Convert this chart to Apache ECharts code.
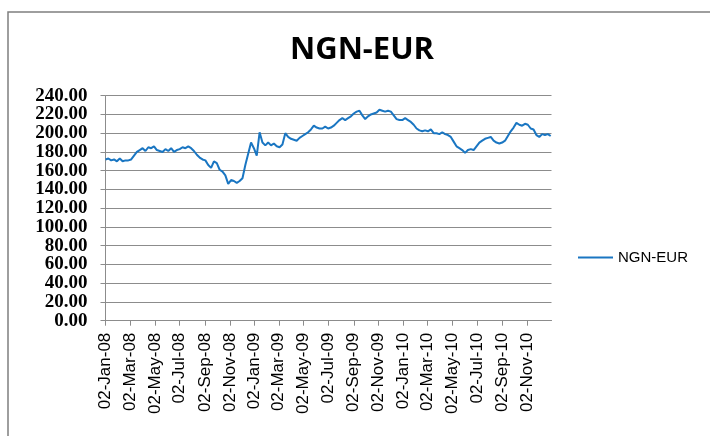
<!DOCTYPE html>
<html>
<head>
<meta charset="utf-8">
<title>NGN-EUR</title>
<script src="https://cdn.jsdelivr.net/npm/echarts@6/dist/echarts.min.js"></script>
<style>
  html, body { margin: 0; padding: 0; background: #fff; }
  #chart { width: 710px; height: 436px; }
</style>
</head>
<body>
<div id="chart"></div>
<script>
// weekly readings, first point 02-Jan-2008
const startDate = '2008-01-02';
const endDate = '2010-12-31';
const rates = [
  172, 173, 171, 172, 170, 173, 170, 171, 171, 172,
  176, 180, 182, 184, 181, 185, 184, 186, 182, 181,
  180, 183, 181, 184, 180, 182, 183, 185, 184, 186,
  184, 181, 177, 174, 172, 171, 166, 163, 170, 168,
  161, 159, 155, 146, 150, 149, 147, 149, 152, 166,
  178, 190, 184, 176, 201, 190, 187, 190, 187, 189,
  186, 185, 188, 200, 196, 194, 193, 192, 195, 197,
  199, 201, 204, 208, 206, 205, 205, 207, 205, 206,
  208, 211, 214, 216, 214, 216, 218, 221, 223, 224,
  219, 215, 218, 220, 221, 222, 225, 224, 223, 224,
  223, 219, 215, 214, 214, 216, 214, 212, 209, 205,
  203, 202, 203, 202, 204, 200, 200, 199, 201, 199,
  198, 196, 191, 186, 184, 182, 179, 182, 183, 182,
  186, 190, 192, 194, 195, 196, 192, 190, 189, 190,
  192, 197, 202, 206, 211, 209, 208, 210, 209, 205,
  204, 198, 196, 199, 198, 199, 197
];
const tickDates = [
  '2008-01-02', '2008-03-02', '2008-05-02', '2008-07-02', '2008-09-02', '2008-11-02',
  '2009-01-02', '2009-03-02', '2009-05-02', '2009-07-02', '2009-09-02', '2009-11-02',
  '2010-01-02', '2010-03-02', '2010-05-02', '2010-07-02', '2010-09-02', '2010-11-02'
];
const tickLabels = [
  '02-Jan-08', '02-Mar-08', '02-May-08', '02-Jul-08', '02-Sep-08', '02-Nov-08',
  '02-Jan-09', '02-Mar-09', '02-May-09', '02-Jul-09', '02-Sep-09', '02-Nov-09',
  '02-Jan-10', '02-Mar-10', '02-May-10', '02-Jul-10', '02-Sep-10', '02-Nov-10'
];
const yTicks = [0, 20, 40, 60, 80, 100, 120, 140, 160, 180, 200, 220, 240];

// day number counted from startDate
function dayOf (s) {
  const p = s.split('-');
  const q = startDate.split('-');
  return Math.round((Date.UTC(+p[0], +p[1] - 1, +p[2]) - Date.UTC(+q[0], +q[1] - 1, +q[2])) / 86400000);
}
const tickDays = tickDates.map(dayOf);
const seriesData = rates.map(function (v, i) {
  return [7 * i, v];
});

const yMin = yTicks[0];
const yMax = yTicks[yTicks.length - 1];
const gridColor = '#8c8c8c';
const lineColor = '#1a76c2';

// labels are tall compared to the gap, so ends and middle go on two stacked axes
// (otherwise echarts drops the labels next to 0.00 and 240.00)
function yAxisFor (showEnds) {
  return {
    type: 'value',
    position: 'left',
    min: yMin,
    max: yMax,
    interval: 20,
    axisLine: { show: showEnds, lineStyle: { color: gridColor, width: 1 } },
    axisTick: { show: showEnds, length: 5, lineStyle: { color: gridColor } },
    splitLine: { show: showEnds, lineStyle: { color: gridColor, width: 1 } },
    axisLabel: {
      margin: 18,
      showMinLabel: true,
      showMaxLabel: true,
      fontFamily: 'Liberation Serif',
      fontWeight: 'bold',
      fontSize: 19,
      color: '#000',
      formatter: function (v) {
        const isEnd = v === yMin || v === yMax;
        return isEnd === showEnds ? v.toFixed(2) : '';
      }
    }
  };
}

const chart = echarts.init(document.getElementById('chart'));
chart.setOption({
  animation: false,
  title: {
    text: 'NGN-EUR',
    left: 290,
    top: 35,
    padding: 0,
    textStyle: { fontFamily: 'Open Sans', fontWeight: 'bold', fontSize: 31, color: '#000' }
  },
  graphic: [{
    type: 'rect',
    shape: { x: 8, y: 12, width: 800, height: 500 },
    style: { fill: 'none', stroke: '#7f7f7f', lineWidth: 1.5 },
    silent: true
  }],
  legend: {
    left: 578,
    top: 250,
    padding: 0,
    itemWidth: 35,
    itemHeight: 2,
    itemGap: 4,
    textStyle: { fontFamily: 'Liberation Sans', fontSize: 15, color: '#000' },
    data: [{ name: 'NGN-EUR', icon: 'rect' }]
  },
  grid: { left: 105.5, right: 158.5, top: 95.7, bottom: 115.3, containLabel: false },
  xAxis: {
    type: 'value',
    min: 0,
    max: dayOf(endDate),
    axisLine: { lineStyle: { color: gridColor, width: 1 } },
    axisTick: { show: true, length: 5, lineStyle: { color: gridColor }, customValues: tickDays },
    splitLine: { show: false },
    axisLabel: {
      customValues: tickDays,
      rotate: 90,
      margin: 12,
      fontFamily: 'Liberation Sans',
      fontSize: 17,
      color: '#000',
      formatter: function (v) {
        const k = tickDays.indexOf(v);
        return k >= 0 ? tickLabels[k] : '';
      }
    }
  },
  yAxis: [yAxisFor(true), yAxisFor(false)],
  series: [{
    name: 'NGN-EUR',
    type: 'line',
    data: seriesData,
    symbol: 'none',
    lineStyle: { color: lineColor, width: 2 },
    itemStyle: { color: lineColor }
  }]
});
</script>
</body>
</html>
